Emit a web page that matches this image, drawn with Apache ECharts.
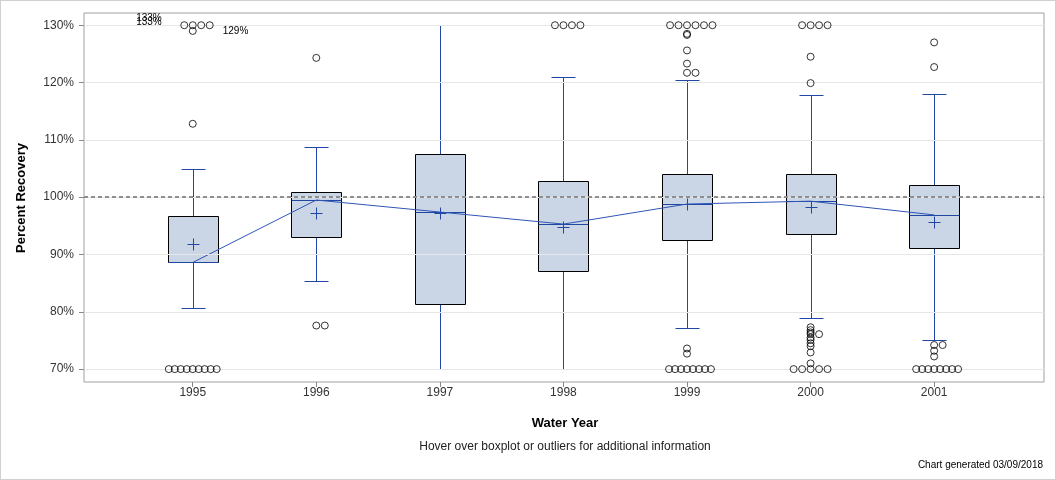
<!DOCTYPE html>
<html><head><meta charset="utf-8">
<script src="https://cdn.jsdelivr.net/npm/echarts@6/dist/echarts.min.js"></script>
<style>html,body{margin:0;padding:0;background:#fff}#c{width:1056px;height:480px;box-sizing:border-box;border:1px solid #d0d0d0}</style>
</head><body><div id="c"></div>
<script>
// ---- data ----
const years = [1995, 1996, 1997, 1998, 1999, 2000, 2001];
const whiskerLow  = [80.6, 85.4, 70.0, 70.0, 77.1, 79.0, 75.0];
const q1          = [88.6, 93.1, 81.3, 87.2, 92.6, 93.6, 91.2];
const median      = [88.6, 99.5, 97.4, 95.3, 98.8, 99.3, 96.9];
const q3          = [96.7, 100.9, 107.5, 102.8, 104.0, 104.1, 102.2];
const whiskerHigh = [104.9, 108.7, 130.0, 121.0, 120.4, 117.9, 118.0];
const means       = [91.9, 97.3, 97.3, 94.8, 98.8, 98.3, 95.7];
const outliers1995 = [130, 130, 130, 130, 129, 112.8, 70, 70, 70, 70, 70, 70, 70, 70, 70];
const outliers1996 = [124.3, 77.6, 77.6];
const outliers1997 = [];
const outliers1998 = [130, 130, 130, 130];
const outliers1999 = [130, 130, 130, 130, 130, 130, 128.5, 128.3, 125.6, 123.3, 121.7, 121.7, 73.6, 72.7, 70, 70, 70, 70, 70, 70, 70, 70];
const outliers2000 = [130, 130, 130, 130, 124.5, 119.9, 77.3, 76.8, 76.4, 76.1, 76.1, 75.5, 75.1, 74.5, 74.0, 72.9, 71.0, 70, 70, 70, 70, 70];
const outliers2001 = [127.0, 122.7, 74.2, 74.2, 73.2, 72.2, 70, 70, 70, 70, 70, 70, 70, 70];
const yTicks = [70, 80, 90, 100, 110, 120, 130];
const offscaleLabels = ['133%', '133%', '129%'];
const referenceValue = 100;

// ---- build ----
const outlierLists = [outliers1995, outliers1996, outliers1997, outliers1998, outliers1999, outliers2000, outliers2001];
const xMin = 1994.12, xMax = 2001.889;
const pxPerYear = 962 / (xMax - xMin);
const outlierData = [];
outlierLists.forEach((list, k) => {
  const groups = {};
  list.forEach(v => { (groups[v] = groups[v] || []).push(v); });
  Object.keys(groups).forEach(key => {
    const g = groups[key];
    const sp = (g.length > 6 ? 6 : 8.5) / pxPerYear;
    g.forEach((v, i) => {
      const slot = (i % 2 === 1) ? (i + 1) / 2 : -(i / 2);
      outlierData.push([years[k] + slot * sp, v]);
    });
  });
});
const boxData = years.map((y, i) => [y, whiskerLow[i], q1[i], median[i], q3[i], whiskerHigh[i], means[i]]);
const medianLine = years.map((y, i) => [y, median[i]]);

const BLUE = '#1f47a3';
const chart = echarts.init(document.getElementById('c'));
const font = 'Liberation Sans, Arial, sans-serif';
const r = v => Math.round(v) + 0.5;

chart.setOption({
  animation: false,
  grid: { left: 83, right: 11, top: 12, bottom: 97, show: true, borderColor: '#a0a0a0', borderWidth: 1, backgroundColor: 'transparent' },
  xAxis: {
    type: 'value', min: xMin, max: xMax,
    axisLine: { show: false },
    splitLine: { show: false },
    axisTick: { show: true, length: 5, lineStyle: { color: '#888' }, customValues: years },
    axisLabel: { customValues: years, color: '#333', fontFamily: font, fontSize: 12, margin: 5, formatter: v => String(Math.round(v)) }
  },
  yAxis: {
    type: 'value', min: 67.75, max: 132.13,
    axisLine: { show: false },
    splitLine: { show: false },
    axisTick: { show: true, length: 5, lineStyle: { color: '#888' }, customValues: yTicks },
    axisLabel: { customValues: yTicks, color: '#333', fontFamily: font, fontSize: 12, margin: 10, formatter: v => Math.round(v) + '%' }
  },
  series: [
    {
      type: 'line', data: [], silent: true, z: 1,
      markLine: {
        silent: true, symbol: 'none', label: { show: false }, animation: false,
        data: yTicks.map(v => ({ yAxis: v, lineStyle: { color: '#e6e6e6', width: 1, type: 'solid' } }))
          .concat([{ yAxis: referenceValue, lineStyle: { color: '#8f8f8f', width: 2, type: [4, 3] } }])
      }
    },
    {
      type: 'custom', z: 3, data: boxData, silent: true,
      renderItem(params, api) {
        const x = api.value(0);
        const pLow = api.coord([x, api.value(1)]);
        const pQ1 = api.coord([x, api.value(2)]);
        const pMed = api.coord([x, api.value(3)]);
        const pQ3 = api.coord([x, api.value(4)]);
        const pHigh = api.coord([x, api.value(5)]);
        const pMean = api.coord([x, api.value(6)]);
        const cx = r(pMed[0]);
        const bw = 25, cw = 12, m = 6;
        const ls = { stroke: BLUE, lineWidth: 1 };
        return { type: 'group', children: [
          { type: 'line', shape: { x1: cx, y1: r(pQ3[1]), x2: cx, y2: r(pHigh[1]) }, style: ls },
          { type: 'line', shape: { x1: cx, y1: r(pQ1[1]), x2: cx, y2: r(pLow[1]) }, style: ls },
          { type: 'line', shape: { x1: cx - cw, y1: r(pHigh[1]), x2: cx + cw, y2: r(pHigh[1]) }, style: ls },
          { type: 'line', shape: { x1: cx - cw, y1: r(pLow[1]), x2: cx + cw, y2: r(pLow[1]) }, style: ls },
          { type: 'rect', shape: { x: cx - bw, y: r(pQ3[1]), width: 2 * bw, height: Math.round(pQ1[1]) - Math.round(pQ3[1]) }, style: { fill: '#cad5e5', stroke: '#000', lineWidth: 1 } },
          { type: 'line', shape: { x1: cx - bw, y1: r(pMed[1]), x2: cx + bw, y2: r(pMed[1]) }, style: ls },
          { type: 'line', shape: { x1: cx - m, y1: r(pMean[1]), x2: cx + m, y2: r(pMean[1]) }, style: ls },
          { type: 'line', shape: { x1: cx, y1: r(pMean[1]) - m, x2: cx, y2: r(pMean[1]) + m }, style: ls }
        ] };
      }
    },
    {
      type: 'line', data: medianLine, z: 4, silent: true, symbol: 'none',
      lineStyle: { color: '#2e55b4', width: 1 }
    },
    {
      type: 'scatter', data: outlierData, z: 5, silent: true, symbol: 'circle', symbolSize: 7,
      itemStyle: { color: 'transparent', borderColor: '#000', borderWidth: 1 }
    }
  ]
});

const anchor = chart.convertToPixel({ gridIndex: 0 }, [years[0], 130]);
const labelStyle = { fontFamily: font, fontSize: 10, fill: '#000' };
chart.setOption({
  graphic: [
    { type: 'text', x: anchor[0] - 31, y: anchor[1] - 7, style: Object.assign({ text: offscaleLabels[0], align: 'right', verticalAlign: 'middle' }, labelStyle) },
    { type: 'text', x: anchor[0] - 31, y: anchor[1] - 2.5, style: Object.assign({ text: offscaleLabels[1], align: 'right', verticalAlign: 'middle' }, labelStyle) },
    { type: 'text', x: anchor[0] + 30, y: anchor[1] + 6, style: Object.assign({ text: offscaleLabels[2], align: 'left', verticalAlign: 'middle' }, labelStyle) },
    { type: 'text', x: 20, y: 197, rotation: Math.PI / 2, style: { text: 'Percent Recovery', fontFamily: font, fontSize: 13, fontWeight: 'bold', fill: '#000', align: 'center', verticalAlign: 'middle' } },
    { type: 'text', x: 564, y: 422, style: { text: 'Water Year', fontFamily: font, fontSize: 13, fontWeight: 'bold', fill: '#000', align: 'center', verticalAlign: 'middle' } },
    { type: 'text', x: 564, y: 446, style: { text: 'Hover over boxplot or outliers for additional information', fontFamily: font, fontSize: 12, fill: '#222', align: 'center', verticalAlign: 'middle' } },
    { type: 'text', x: 1042, y: 464, style: { text: 'Chart generated 03/09/2018', fontFamily: font, fontSize: 10, fill: '#000', align: 'right', verticalAlign: 'middle' } }
  ]
});
</script></body></html>
